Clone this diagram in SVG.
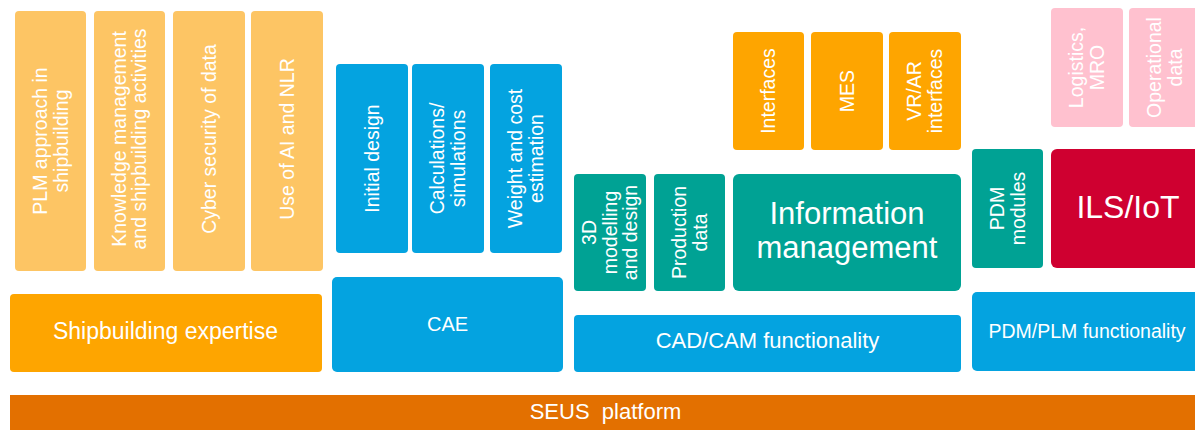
<svg xmlns="http://www.w3.org/2000/svg" width="1195" height="430" viewBox="0 0 1195 430">
<style>
text{font-family:"Liberation Sans",Arial,Helvetica,sans-serif;fill:#fff;text-anchor:middle}
.v{font-size:19.5px}
.lo{fill:#FDC564}
.or{fill:#FEA500}
.bl{fill:#04A3E0}
.tl{fill:#00A294}
.rd{fill:#CF0030}
.pk{fill:#FFC1CF}
.so{fill:#E37000}
</style>
<rect width="1195" height="430" fill="#fff"/>
<g id="plm"><rect class="lo" x="15" y="11" width="71" height="260" rx="4"/><text class="v" transform="translate(50.5,141) rotate(-90)"><tspan x="0" y="-3.7">PLM approach in</tspan><tspan x="0" y="17.3">shipbuilding</tspan></text></g>
<g id="knowledge"><rect class="lo" x="94" y="11" width="71" height="260" rx="4"/><text class="v" transform="translate(129.5,139) rotate(-90)"><tspan x="0" y="-3.7">Knowledge management</tspan><tspan x="0" y="16.8">and shipbuilding activities</tspan></text></g>
<g id="cyber"><rect class="lo" x="173" y="11" width="72" height="260" rx="4"/><text class="v" transform="translate(209,139) rotate(-90)" y="6.8">Cyber security of data</text></g>
<g id="ai"><rect class="lo" x="251" y="11" width="72" height="260" rx="4"/><text class="v" transform="translate(287,139) rotate(-90)" y="6.8">Use of AI and NLR</text></g>
<g id="shipbuilding"><rect class="or" x="10" y="294" width="312" height="78" rx="4"/><text x="165.5" y="339" font-size="23">Shipbuilding expertise</text></g>
<g id="initial"><rect class="bl" x="336" y="64" width="72" height="189" rx="4"/><text class="v" transform="translate(372,158.5) rotate(-90)" y="6.8">Initial design</text></g>
<g id="calc"><rect class="bl" x="412" y="64" width="72" height="189" rx="4"/><text class="v" transform="translate(448,158.5) rotate(-90)"><tspan x="0" y="-3.7">Calculations/</tspan><tspan x="0" y="17.3">simulations</tspan></text></g>
<g id="weight"><rect class="bl" x="490" y="64" width="72" height="189" rx="4"/><text class="v" transform="translate(526,158.5) rotate(-90)"><tspan x="0" y="-3.7">Weight and cost</tspan><tspan x="0" y="17.3">estimation</tspan></text></g>
<g id="cae"><rect class="bl" x="332" y="277" width="231" height="95" rx="5"/><text x="447.5" y="331" font-size="20">CAE</text></g>
<g id="interfaces"><rect class="or" x="733" y="32" width="71" height="118" rx="4"/><text class="v" transform="translate(768.5,91) rotate(-90)" y="6.8">Interfaces</text></g>
<g id="mes"><rect class="or" x="811" y="32" width="72" height="118" rx="4"/><text class="v" transform="translate(847,91) rotate(-90)" y="6.8">MES</text></g>
<g id="vrar"><rect class="or" x="889" y="32" width="72" height="118" rx="4"/><text class="v" transform="translate(925,91) rotate(-90)"><tspan x="0" y="-3.7">VR/AR</tspan><tspan x="0" y="17.3">interfaces</tspan></text></g>
<g id="modelling"><rect class="tl" x="574" y="174" width="72" height="117" rx="4"/><text class="v" transform="translate(610,232.5) rotate(-90)"><tspan x="0" y="-13.7">3D</tspan><tspan x="0" y="6.8">modelling</tspan><tspan x="0" y="27.3">and design</tspan></text></g>
<g id="production"><rect class="tl" x="654" y="174" width="71" height="117" rx="4"/><text class="v" transform="translate(689.5,232.5) rotate(-90)"><tspan x="0" y="-3.7">Production</tspan><tspan x="0" y="17.3">data</tspan></text></g>
<g id="information"><rect class="tl" x="733" y="174" width="228" height="117" rx="6"/><text x="847" y="224" font-size="31">Information</text><text x="847" y="258" font-size="31">management</text></g>
<g id="cadcam"><rect class="bl" x="574" y="315" width="387" height="57" rx="4"/><text x="767.5" y="348" font-size="22">CAD/CAM functionality</text></g>
<g id="logistics"><rect class="pk" x="1051" y="8" width="72" height="119" rx="4"/><text class="v" transform="translate(1087,67.5) rotate(-90)"><tspan x="0" y="-3.7">Logistics,</tspan><tspan x="0" y="17.3">MRO</tspan></text></g>
<g id="operational"><rect class="pk" x="1129" y="8" width="72" height="119" rx="4"/><text class="v" transform="translate(1165,67.5) rotate(-90)"><tspan x="0" y="-3.7">Operational</tspan><tspan x="0" y="17.3">data</tspan></text></g>
<g id="pdmmodules"><rect class="tl" x="972" y="149" width="71" height="119" rx="4"/><text class="v" transform="translate(1007.5,208.5) rotate(-90)"><tspan x="0" y="-3.7">PDM</tspan><tspan x="0" y="17.3">modules</tspan></text></g>
<g id="ilsiot"><rect class="rd" x="1051" y="149" width="154" height="119" rx="6"/><text x="1128" y="218" font-size="32">ILS/IoT</text></g>
<g id="pdmplm"><rect class="bl" x="972" y="292" width="232" height="79" rx="5"/><text x="1087" y="338" font-size="19.5">PDM/PLM functionality</text></g>
<g id="seus"><rect class="so" x="10" y="395" width="1195" height="40"/><text x="605.5" y="419" font-size="22" xml:space="preserve">SEUS  platform</text></g>
<g id="connectors"></g>
</svg>
